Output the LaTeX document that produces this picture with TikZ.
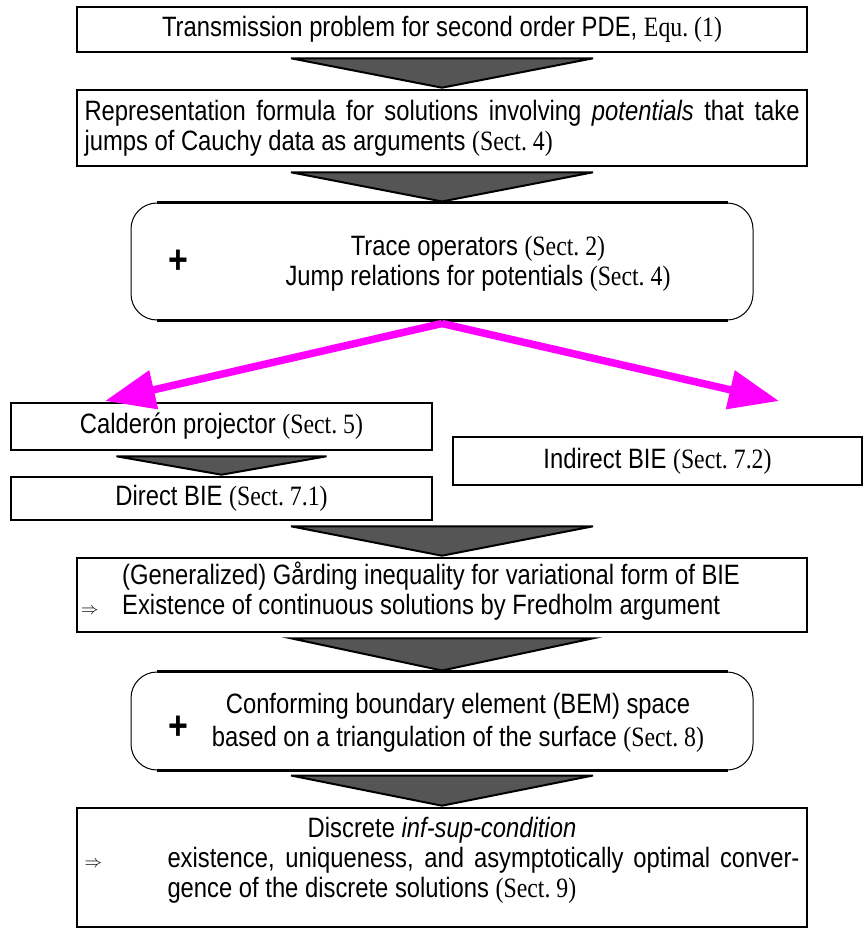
\documentclass[tikz,border=0pt]{standalone}
\usepackage{fontspec}
\setmainfont{Liberation Sans}[FakeStretch=0.85]
\newfontfamily\serifpart{Liberation Serif}[FakeStretch=0.85]
\usetikzlibrary{calc,arrows.meta}

\definecolor{arrowgray}{RGB}{85,85,85}
\definecolor{jumpmagenta}{RGB}{255,0,255}

% section references are set in the serif face
\newcommand{\sectref}[1]{{\serifpart(Sect.~#1)}}
\newcommand{\impl}{\scalebox{0.7}{$\Rightarrow$}}
% grey wedge from box #1 down to box #2, half width #3
\newcommand{\flowarrow}[3]{%
  \filldraw[flowfill] ($(#1.south -| #2.north)+(-#3,5)$) -- ($(#1.south -| #2.north)+(#3,5)$)
    -- ($(#2.north)+(0,-1)$) -- cycle;}

\begin{document}
\begin{tikzpicture}[x=1pt,y=-1pt,
    box/.style={draw, line width=2.6pt, inner sep=0pt, font=\fontsize{28}{30}\selectfont},
    roundbox/.style={draw, line width=1pt, rounded corners=26pt, inner sep=0pt},
    txt/.style={inner sep=0pt, font=\fontsize{28}{30}\selectfont},
    plussign/.style={inner sep=0pt, font=\fontsize{40}{40}\selectfont\bfseries},
    flowfill/.style={fill=arrowgray, draw=black, line width=2pt},
    splitarrow/.style={draw=jumpmagenta, line width=7.5pt, -{Triangle[length=50pt,width=38pt]}}]
    \useasboundingbox (0,0) rectangle (863,928);

    % main chain
    \node[box, minimum width=730pt, minimum height=45pt] (trans) at (442,29.5)
        {Transmission problem for second order PDE, \serifpart Equ.~(1)};
    \node[box, minimum width=730pt, minimum height=76pt] (repr) at (442,128)
        {\parbox{715pt}{Representation formula for solutions involving \textit{potentials} that take\linebreak
         jumps of Cauchy data as arguments \sectref{4}}};
    \node[roundbox, minimum width=622pt, minimum height=117pt] (trace) at (442,261.5) {};
    \node[plussign] (plus1) at (178,262) {+};
    \node[txt, align=center] (tracetxt) at (478,264)
        {Trace operators \sectref{2}\\Jump relations for potentials \sectref{4}};

    % two branches
    \node[box, minimum width=421pt, minimum height=47pt] (cald) at (221.5,426.5)
        {Calderón projector \sectref{5}};
    \node[box, minimum width=421pt, minimum height=43pt] (direct) at (221.5,498.5)
        {Direct BIE \sectref{7.1}};
    \node[box, minimum width=409pt, minimum height=48pt] (indirect) at (657.5,461)
        {Indirect BIE \sectref{7.2}};

    \node[box, minimum width=730pt, minimum height=74pt] (gard) at (442,595) {};
    \node[txt, anchor=west] (gardtxt) at (81,593)
        {\begin{tabular}{@{}p{41pt}@{}l@{}}
          & (Generalized) Gårding inequality for variational form of BIE\\
         \impl & Existence of continuous solutions by Fredholm argument
         \end{tabular}};
    \node[roundbox, minimum width=622pt, minimum height=98pt] (bem) at (442,721) {};
    \node[plussign] (plus2) at (178,728) {+};
    \node[txt, align=center] (bemtxt) at (458,723)
        {Conforming boundary element (BEM) space\\[3pt]
         based on a triangulation of the surface \sectref{8}};
    \node[box, minimum width=730pt, minimum height=119pt] (fin) at (442,867.5) {};
    \node[txt] (fintxt) at (442,860)
        {\parbox{720pt}{\centering Discrete \textit{inf-sup-condition}\\
         \makebox[0pt][l]{\impl}\hspace*{83pt}\parbox[t]{632pt}{existence, uniqueness, and
         asymptotically optimal conver-\linebreak gence of the discrete solutions \sectref{9}}}};

    % thick top and bottom of the rounded boxes
    \foreach \r in {trace,bem} {
        \draw[line width=2.6pt] ([xshift=26pt]\r.north west) -- ([xshift=-26pt]\r.north east);
        \draw[line width=2.6pt] ([xshift=26pt]\r.south west) -- ([xshift=-26pt]\r.south east);
    }

    % grey wedges
    \flowarrow{trans}{repr}{151}
    \flowarrow{repr}{trace}{151}
    \flowarrow{cald}{direct}{105}
    \flowarrow{direct}{gard}{151}
    \flowarrow{gard}{bem}{151}
    \flowarrow{bem}{fin}{151}

    % magenta split
    \coordinate (split) at ($(trace.south)+(0,3)$);
    \coordinate (tipL) at (105,401);
    \coordinate (tipR) at (779,401);
    \draw[splitarrow] (split) -- (tipL);
    \draw[splitarrow] (split) -- (tipR);
\end{tikzpicture}
\end{document}
